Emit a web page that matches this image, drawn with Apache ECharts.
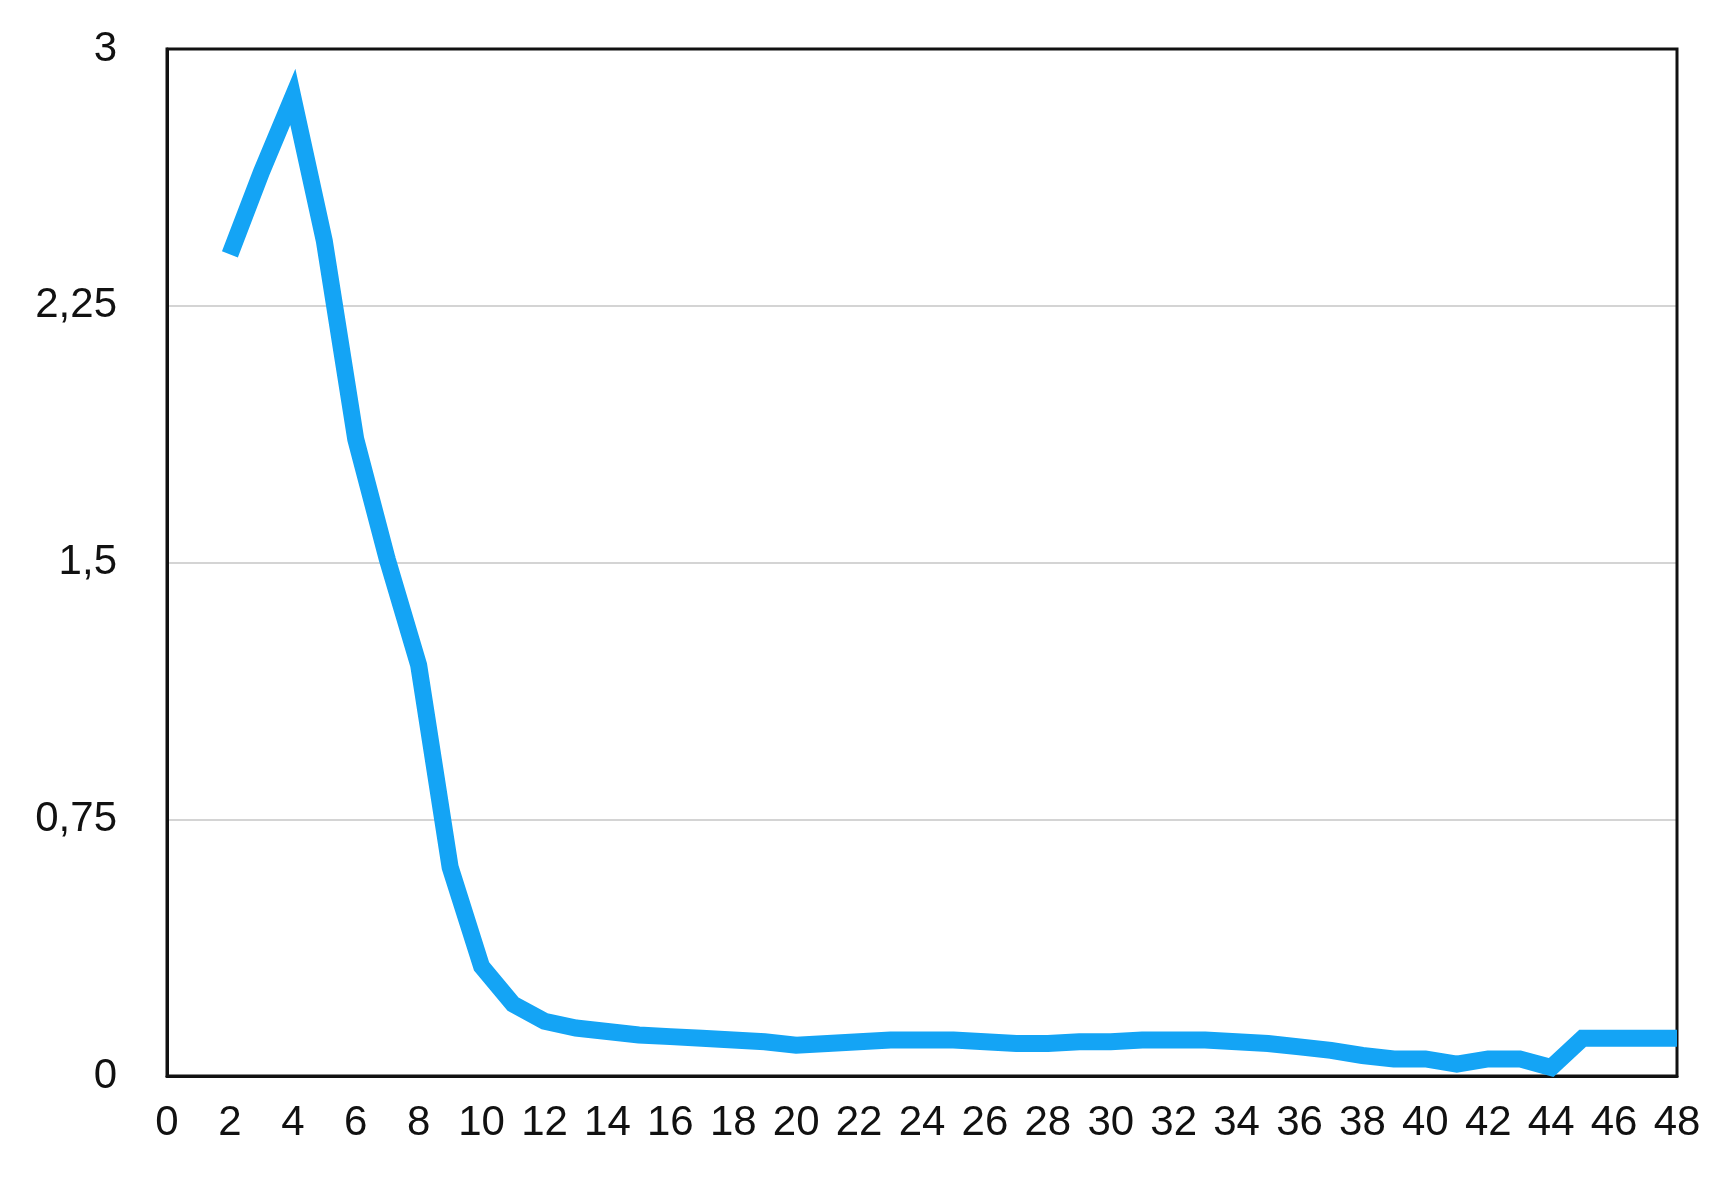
<!DOCTYPE html>
<html>
<head>
<meta charset="utf-8">
<script src="https://cdn.jsdelivr.net/npm/echarts@6/dist/echarts.min.js"></script>
<style>
  html, body { margin: 0; padding: 0; background: #fff; }
  #chart { width: 1724px; height: 1177px; }
</style>
</head>
<body>
<div id="chart"></div>
<script>
// values
var xValues = [2, 3, 4, 5, 6, 7, 8, 9, 10, 11, 12, 13, 14, 15, 16, 17, 18, 19, 20, 21, 22, 23, 24, 25,
  26, 27, 28, 29, 30, 31, 32, 33, 34, 35, 36, 37, 38, 39, 40, 41, 42, 43, 44, 45, 46, 47, 48]
var yValues = [2.40, 2.64, 2.86, 2.44, 1.86, 1.51, 1.20, 0.61, 0.32, 0.21, 0.16, 0.14, 0.13, 0.12, 0.115, 0.11, 0.105, 0.10, 0.09, 0.095, 0.10, 0.105, 0.105, 0.105,
  0.10, 0.095, 0.095, 0.10, 0.10, 0.105, 0.105, 0.105, 0.10, 0.095, 0.085, 0.075, 0.06, 0.05, 0.05, 0.035, 0.05, 0.05, 0.025, 0.11, 0.11, 0.11, 0.11]
var yTicks = [0, 0.75, 1.5, 2.25, 3]

var points = xValues.map(function (x, i) { return [x, yValues[i]] })

var chart = echarts.init(document.getElementById('chart'))
chart.setOption({
  animation: false,
  textStyle: { fontFamily: 'Liberation Sans' },
  grid: {
    left: 167,
    right: 47,
    top: 49,
    bottom: 101,
    show: true,
    borderColor: '#111',
    borderWidth: 3,
    z: 3
  },
  xAxis: {
    type: 'value',
    min: 0,
    max: 48,
    interval: 2,
    axisLine: { show: true, lineStyle: { color: '#111', width: 3 } },
    axisTick: { show: false },
    splitLine: { show: false },
    axisLabel: { color: '#111', fontSize: 42, margin: 26 }
  },
  yAxis: {
    type: 'value',
    min: yTicks[0],
    max: yTicks[yTicks.length - 1],
    interval: 0.75,
    axisLine: { show: true, lineStyle: { color: '#111', width: 3 } },
    axisTick: { show: false },
    splitLine: { show: true, showMinLine: false, showMaxLine: false, lineStyle: { color: '#d4d4d4', width: 2 } },
    axisLabel: {
      color: '#111',
      fontSize: 42,
      margin: 50,
      formatter: function (v) { return String(v).replace('.', ',') }
    }
  },
  series: [
    {
      type: 'line',
      data: points,
      showSymbol: false,
      lineStyle: { color: '#14a4f5', width: 17, join: 'miter' }
    }
  ]
})
</script>
</body>
</html>
